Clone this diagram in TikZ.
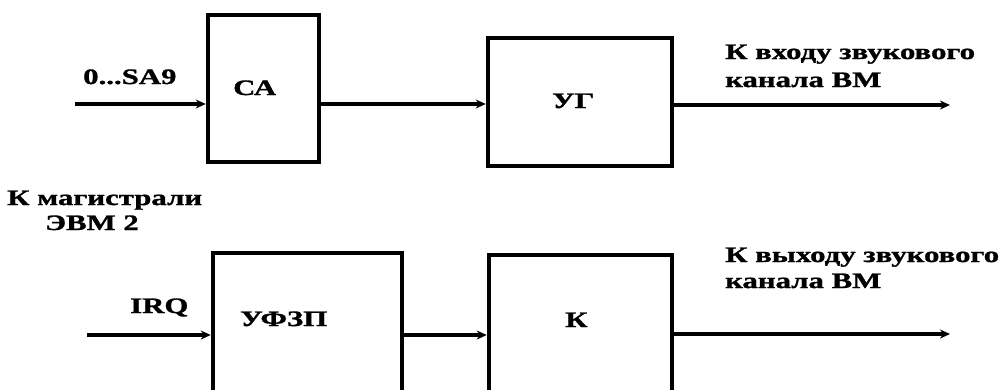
\documentclass[tikz,border=0pt]{standalone}
\usepackage{fontspec}
\newfontfamily\lblfont{Liberation Serif}[FakeStretch=1.4,FakeBold=1.3]
\usetikzlibrary{arrows.meta}
\begin{document}
\begin{tikzpicture}[x=1pt,y=-1pt,
  blk/.style={draw=black,line width=4.5pt,rectangle,inner sep=0pt},
  arr/.style={line width=4pt,-{Stealth[length=10pt,width=9pt]}},
  txt/.style={inner sep=0pt,font=\lblfont\bfseries\fontsize{22}{26}\selectfont,anchor=base west}]
\useasboundingbox (0,0) rectangle (1007,389);
% boxes
\node[blk,minimum width=111pt,minimum height=147pt] (ca) at (263.5,88.5) {};
\node[blk,minimum width=184pt,minimum height=128pt] (ug) at (580,102) {};
\node[blk,minimum width=189pt,minimum height=139pt] (uf) at (307.5,322.5) {};
\node[blk,minimum width=183pt,minimum height=137pt] (kk) at (580.5,323.5) {};
% box labels
\node[txt] (tca) at (233,95) {СА};
\node[txt] (tug) at (552,108) {УГ};
\node[txt] (tuf) at (240,326) {УФЗП};
\node[txt] (tkk) at (565,327) {К};
% signal labels
\node[txt] (tsa) at (83,84) {0...SA9};
\node[txt] (tirq) at (130,313) {IRQ};
\node[txt] (tmag1) at (7,205) {К магистрали};
\node[txt] (tmag2) at (45,230) {ЭВМ 2};
\node[txt] (tin1) at (725,59) {К входу звукового};
\node[txt] (tin2) at (725,87) {канала ВМ};
\node[txt] (tout1) at (725,262) {К выходу звукового};
\node[txt] (tout2) at (725,288) {канала ВМ};
% connectors
\coordinate (in1) at (75,104);
\coordinate (out1) at (950,105);
\coordinate (in2) at (87,335);
\coordinate (out2) at (950,334);
\draw[arr] (in1) -- (in1 -| ca.west);
\draw[arr] (in1 -| ca.east) -- (in1 -| ug.west);
\draw[arr] (out1 -| ug.east) -- (out1);
\draw[arr] (in2) -- (in2 -| uf.west);
\draw[arr] (in2 -| uf.east) -- (in2 -| kk.west);
\draw[arr] (out2 -| kk.east) -- (out2);
\end{tikzpicture}
\end{document}
